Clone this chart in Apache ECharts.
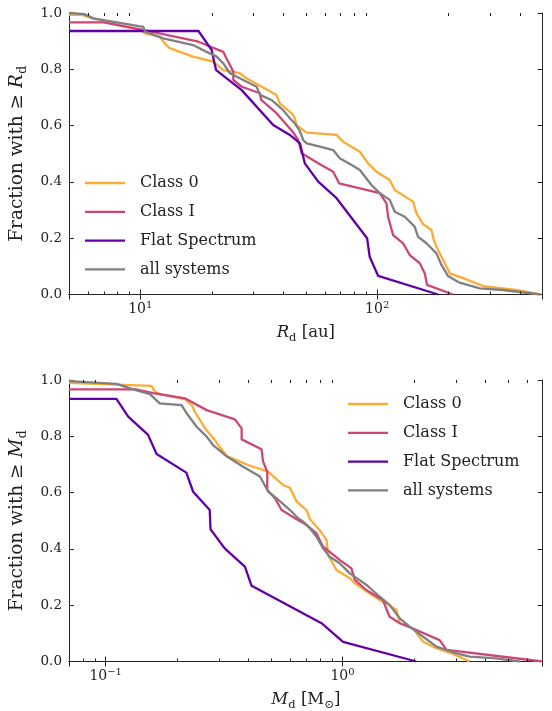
<!DOCTYPE html>
<html>
<head>
<meta charset="utf-8">
<script src="https://cdn.jsdelivr.net/npm/echarts@6/dist/echarts.min.js"></script>
<style>
  html, body { margin: 0; padding: 0; background: #ffffff; }
  #chart { width: 552px; height: 711px; }
</style>
</head>
<body>
<div id="chart"></div>
<script>
// Cumulative fractions of discs with size / mass at least the given value.
const SERIES_NAMES = ['Class 0', 'Class I', 'Flat Spectrum', 'all systems'];
const SERIES_COLORS = ['#fcac34', '#cc4778', '#6200a8', '#808080'];

// Disc radius R_d [au] vs fraction with >= R_d
const rdClass0 = [[5,0.993],[5.66,0.993],[6.33,0.981],[8.07,0.957],[10,0.940],[10.46,0.928],[12.1,0.916],[12.5,0.898],[13.3,0.875],[16.7,0.845],[20.3,0.827],[22.4,0.797],[26.3,0.786],[28.1,0.768],[37.6,0.709],[38.8,0.679],[42.8,0.649],[44.2,0.638],[44.9,0.626],[45.7,0.602],[48.7,0.584],[50.5,0.575],[67.4,0.567],[71.8,0.543],[84.5,0.507],[91.6,0.466],[99.4,0.436],[113,0.407],[118.7,0.371],[141.8,0.330],[146.6,0.288],[156.3,0.250],[169.5,0.229],[173.4,0.194],[178,0.170],[193,0.111],[202.8,0.075],[230.6,0.058],[280,0.030],[387,0.016],[490,0.0]];
const rdClassI = [[5,0.967],[7,0.967],[10,0.942],[17.6,0.898],[22.4,0.862],[23.1,0.839],[24.7,0.792],[24.7,0.762],[26.8,0.738],[32,0.715],[32.4,0.691],[37.6,0.644],[42.8,0.590],[44.2,0.576],[46.4,0.549],[48,0.502],[56.4,0.466],[65.2,0.436],[69.1,0.395],[102.6,0.360],[109.5,0.324],[111.2,0.276],[116.8,0.211],[128.7,0.182],[137.4,0.140],[151.4,0.111],[158.9,0.075],[162.5,0.034],[209,0.0]];
const rdFlat = [[5,0.936],[17.6,0.936],[20,0.869],[20.5,0.827],[20.9,0.797],[26.8,0.726],[36.4,0.602],[42.8,0.567],[47.2,0.537],[49.5,0.466],[56.4,0.401],[67.4,0.342],[90.7,0.200],[93,0.134],[101,0.066],[181,0.0]];
const rdAll = [[5,1.0],[5.8,0.996],[6.33,0.981],[10.3,0.951],[10.46,0.934],[12.5,0.910],[16.7,0.886],[19.05,0.862],[21,0.845],[22.4,0.821],[23.9,0.786],[26.3,0.768],[31,0.738],[32,0.709],[35.8,0.691],[40.1,0.655],[42.8,0.626],[44.9,0.608],[47.2,0.580],[48.7,0.549],[50.4,0.537],[57.3,0.525],[65.2,0.513],[69.5,0.484],[78,0.460],[84.5,0.442],[94.6,0.389],[102.6,0.360],[113,0.336],[118.7,0.294],[130.8,0.276],[144,0.241],[148.9,0.205],[161.5,0.182],[178,0.146],[186.9,0.105],[199,0.066],[223,0.042],[271,0.022],[340,0.016],[490,0.0]];

// Disc mass M_d [M_sun] vs fraction with >= M_d
const mdClass0 = [[0.07,0.990],[0.156,0.979],[0.1615,0.958],[0.1695,0.950],[0.216,0.932],[0.2307,0.911],[0.238,0.887],[0.263,0.828],[0.289,0.787],[0.2985,0.769],[0.325,0.730],[0.399,0.698],[0.486,0.674],[0.561,0.627],[0.60,0.617],[0.64,0.568],[0.705,0.538],[0.728,0.505],[0.80,0.467],[0.856,0.432],[0.869,0.378],[0.943,0.325],[1.073,0.296],[1.127,0.278],[1.30,0.242],[1.436,0.218],[1.532,0.207],[1.69,0.183],[1.745,0.136],[1.99,0.118],[2.08,0.094],[2.19,0.070],[2.49,0.047],[2.93,0.027],[3.44,0.0]];
const mdClassI = [[0.07,0.967],[0.134,0.967],[0.1588,0.953],[0.216,0.935],[0.267,0.893],[0.351,0.860],[0.375,0.828],[0.375,0.789],[0.455,0.754],[0.462,0.710],[0.481,0.674],[0.481,0.609],[0.518,0.580],[0.553,0.538],[0.60,0.520],[0.63,0.509],[0.705,0.485],[0.776,0.455],[0.828,0.408],[0.973,0.361],[1.09,0.331],[1.127,0.290],[1.26,0.254],[1.48,0.218],[1.58,0.159],[1.745,0.136],[2.05,0.112],[2.57,0.076],[2.75,0.041],[7,0.0]];
const mdFlat = [[0.07,0.933],[0.111,0.933],[0.1245,0.870],[0.151,0.805],[0.164,0.737],[0.219,0.671],[0.234,0.603],[0.275,0.538],[0.277,0.470],[0.318,0.402],[0.387,0.337],[0.413,0.269],[0.815,0.136],[1.005,0.070],[2.05,0.0]];
const mdAll = [[0.07,0.996],[0.111,0.986],[0.134,0.964],[0.1537,0.950],[0.169,0.917],[0.209,0.911],[0.2196,0.882],[0.2307,0.858],[0.242,0.834],[0.267,0.799],[0.284,0.769],[0.325,0.728],[0.3805,0.692],[0.448,0.657],[0.486,0.603],[0.526,0.580],[0.60,0.538],[0.64,0.514],[0.682,0.497],[0.728,0.473],[0.776,0.443],[0.828,0.402],[0.883,0.372],[0.973,0.349],[1.073,0.313],[1.262,0.272],[1.436,0.230],[1.58,0.201],[1.745,0.153],[1.92,0.124],[2.19,0.088],[2.49,0.053],[3.03,0.029],[3.44,0.017],[4.46,0.011],[5.6,0.0]];

// Axis ranges and tick values
const rdRange = [5, 500];
const mdRange = [0.07, 7];
const rdMinorTicks = [6, 7, 8, 9, 20, 30, 40, 50, 60, 70, 80, 90, 200, 300, 400];
const mdMinorTicks = [0.08, 0.09, 0.2, 0.3, 0.4, 0.5, 0.6, 0.7, 0.8, 0.9, 2, 3, 4, 5, 6];

const FONT = 'DejaVu Serif';
const INK = '#222222';
const LINE_W = 2.3;

function powerLabel(v) {
  const lg = Math.log10(v);
  const e = Math.round(lg);
  if (Math.abs(lg - e) > 1e-6) return '';
  const exp = e < 0 ? '\u2212' + (-e) : String(e);
  return '{b|10}{sup|' + exp + '}';
}

const tickRich = {
  b: { fontFamily: FONT, fontSize: 14, color: INK, lineHeight: 18, verticalAlign: 'middle' },
  sup: { fontFamily: FONT, fontSize: 10, color: INK, lineHeight: 8, verticalAlign: 'top' }
};
function nameRich(size) {
  return {
    t: { fontFamily: FONT, fontSize: size, color: INK, lineHeight: size + 6, verticalAlign: 'middle' },
    i: { fontFamily: FONT, fontSize: size, fontStyle: 'italic', color: INK, lineHeight: size + 6, verticalAlign: 'middle' },
    s: { fontFamily: FONT, fontSize: size * 0.7, color: INK, lineHeight: size * 0.7, verticalAlign: 'bottom' }
  };
}

const GRID_H = 281.5;
const grids = [
  { left: 69, right: 9.3, top: 13, height: GRID_H },
  { left: 69, right: 9.3, top: 380, height: GRID_H }
].map(g => Object.assign({ containLabel: false, outerBoundsMode: 'none' }, g));

function logAxis(gridIndex, range, position, name) {
  const main = position === 'bottom';
  return {
    gridIndex, type: 'log', logBase: 10, min: range[0], max: range[1], position,
    axisLine: { show: true, lineStyle: { color: INK, width: 1 } },
    axisTick: { show: true, inside: true, length: 5, lineStyle: { color: INK, width: 1 } },
    axisLabel: main ? { show: true, formatter: powerLabel, rich: tickRich, margin: 6,
                        showMinLabel: false, showMaxLabel: false } : { show: false },
    splitLine: { show: false }, minorTick: { show: false },
    name: main ? name : '', nameLocation: 'middle', nameGap: 27,
    nameTextStyle: { rich: nameRich(16.5) }
  };
}

function fracAxis(gridIndex, position, name) {
  const main = position === 'left';
  return {
    gridIndex, type: 'value', min: 0, max: 1, interval: 0.2, position,
    axisLine: { show: true, lineStyle: { color: INK, width: 1 } },
    axisTick: { show: true, inside: true, length: 5, lineStyle: { color: INK, width: 1 } },
    axisLabel: main ? { show: true, formatter: v => v.toFixed(1), fontFamily: FONT, fontSize: 13.5, color: INK, margin: 7 } : { show: false },
    splitLine: { show: false },
    name: main ? name : '', nameLocation: 'middle', nameRotate: 90, nameGap: 30,
    nameTextStyle: { rich: nameRich(18.5) }
  };
}

// Short inward ticks at 2..9 x 10^n on the top and bottom frame edges
function minorTickSeries(xAxisIndex, yAxisIndex, values) {
  return {
    type: 'custom', xAxisIndex, yAxisIndex, silent: true, clip: false, z: 5,
    data: values.map(v => [v, 0]), encode: { x: 0, y: 1 },
    renderItem(params, api) {
      const v = api.value(0);
      const b = api.coord([v, 0]);
      const t = api.coord([v, 1]);
      const x = Math.round(b[0]) + 0.5;
      return { type: 'group', children: [
        { type: 'line', shape: { x1: x, y1: b[1], x2: x, y2: b[1] - 3 }, style: { stroke: INK, lineWidth: 1 } },
        { type: 'line', shape: { x1: x, y1: t[1], x2: x, y2: t[1] + 3 }, style: { stroke: INK, lineWidth: 1 } }
      ] };
    }
  };
}

function curve(name, idx, xAxisIndex, yAxisIndex, data) {
  return {
    type: 'line', name, xAxisIndex, yAxisIndex, data,
    symbol: 'none', showSymbol: false, animation: false,
    lineStyle: { color: SERIES_COLORS[idx], width: LINE_W },
    itemStyle: { color: SERIES_COLORS[idx] },
    emphasis: { disabled: true }
  };
}

function legendAt(left, top) {
  return {
    data: SERIES_NAMES.map(n => ({ name: n, icon: 'rect' })),
    orient: 'vertical', left, top, padding: 0,
    itemWidth: 40, itemHeight: LINE_W, itemGap: 8.8,
    textStyle: { fontFamily: FONT, fontSize: 16, color: INK, lineHeight: 20, padding: [0, 0, 0, 10] },
    selectedMode: false
  };
}

const chart = echarts.init(document.getElementById('chart'), null, { renderer: 'canvas' });
chart.setOption({
  backgroundColor: '#ffffff',
  animation: false,
  grid: grids,
  xAxis: [
    logAxis(0, rdRange, 'bottom', '{i|R}{s|d}{t| [au]}'),
    logAxis(0, rdRange, 'top', ''),
    logAxis(1, mdRange, 'bottom', '{i|M}{s|d}{t| [M}{s|\u2299}{t|]}'),
    logAxis(1, mdRange, 'top', '')
  ],
  yAxis: [
    fracAxis(0, 'left', '{t|Fraction with \u2265 }{i|R}{s|d}'),
    fracAxis(0, 'right', ''),
    fracAxis(1, 'left', '{t|Fraction with \u2265 }{i|M}{s|d}'),
    fracAxis(1, 'right', '')
  ],
  legend: [legendAt(85, 173), legendAt(348, 394)],
  series: [
    curve('Class 0', 0, 0, 0, rdClass0),
    curve('Class I', 1, 0, 0, rdClassI),
    curve('Flat Spectrum', 2, 0, 0, rdFlat),
    curve('all systems', 3, 0, 0, rdAll),
    curve('Class 0', 0, 2, 2, mdClass0),
    curve('Class I', 1, 2, 2, mdClassI),
    curve('Flat Spectrum', 2, 2, 2, mdFlat),
    curve('all systems', 3, 2, 2, mdAll),
    minorTickSeries(0, 0, rdMinorTicks),
    minorTickSeries(2, 2, mdMinorTicks)
  ]
});
</script>
</body>
</html>
